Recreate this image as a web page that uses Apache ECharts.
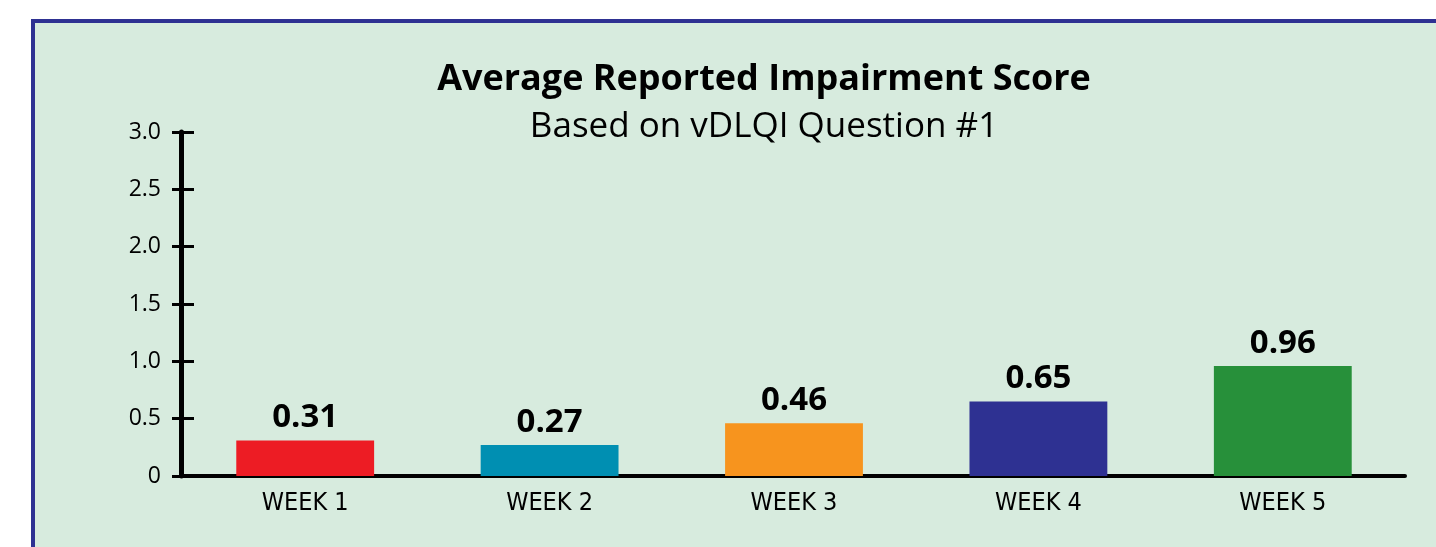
<!DOCTYPE html>
<html>
<head>
<meta charset="utf-8">
<style>
html,body{margin:0;padding:0;background:#ffffff;}
#chart{width:1436px;height:547px;}
</style>
<script src="https://cdn.jsdelivr.net/npm/echarts@6/dist/echarts.min.js"></script>
</head>
<body>
<div id="chart"></div>
<script>
var categories = ['WEEK 1', 'WEEK 2', 'WEEK 3', 'WEEK 4', 'WEEK 5'];
var scores = [0.31, 0.27, 0.46, 0.65, 0.96];
var barColors = ['#ED1C24', '#008FB2', '#F7941E', '#2E3192', '#27903A'];
var titleText = 'Average Reported Impairment Score';
var subtitleText = 'Based on vDLQI Question #1';

var chart = echarts.init(document.getElementById('chart'), null, {renderer: 'canvas'});
var option = {
  backgroundColor: '#ffffff',
  animation: false,
  graphic: [{
    type: 'rect', z: -10, silent: true,
    shape: {x: 33, y: 21, width: 1500, height: 600},
    style: {fill: '#D7EBDE', stroke: '#2E3192', lineWidth: 4}
  }],
  title: [{
    text: titleText,
    left: 759, top: 57, textAlign: 'center',
    textStyle: {fontFamily: 'Open Sans', fontWeight: 'bold', fontSize: 36, color: '#000'}
  }, {
    text: subtitleText,
    left: 759, top: 105, textAlign: 'center',
    textStyle: {fontFamily: 'Open Sans', fontWeight: 'normal', fontSize: 35, color: '#000'}
  }],
  grid: {left: 183, right: 31, top: 132, bottom: 71, containLabel: false},
  xAxis: {
    type: 'category', data: categories,
    axisLine: {lineStyle: {color: '#000', width: 4}},
    axisTick: {show: false},
    axisLabel: {color: '#000', fontFamily: 'DejaVu Sans Condensed', fontSize: 25, margin: 15}
  },
  yAxis: [{
    type: 'value', min: 0, max: 3, interval: 0.5, offset: 2,
    axisLine: {show: true, lineStyle: {color: '#000', width: 5}},
    axisTick: {show: true, length: 9, lineStyle: {color: '#000', width: 3}},
    splitLine: {show: false},
    axisLabel: {color: '#000', fontFamily: 'Open Sans', fontSize: 23, margin: 20,
      formatter: function (v) { return v === 0 ? '0' : v.toFixed(1); }}
  }, {
    type: 'value', min: 0, max: 3, interval: 0.5, position: 'left', offset: 2,
    axisLine: {show: false},
    axisTick: {show: true, inside: true, length: 13, lineStyle: {color: '#000', width: 3}},
    splitLine: {show: false},
    axisLabel: {show: false}
  }],
  series: [{
    type: 'bar',
    barWidth: '56.4%',
    data: scores.map(function (v, i) { return {value: v, itemStyle: {color: barColors[i]}}; }),
    label: {show: true, position: 'top', distance: 6, color: '#000',
      fontFamily: 'Open Sans', fontWeight: 'bold', fontSize: 33,
      formatter: function (p) { return p.value.toFixed(2); }}
  }]
};
chart.setOption(option);
</script>
</body>
</html>
